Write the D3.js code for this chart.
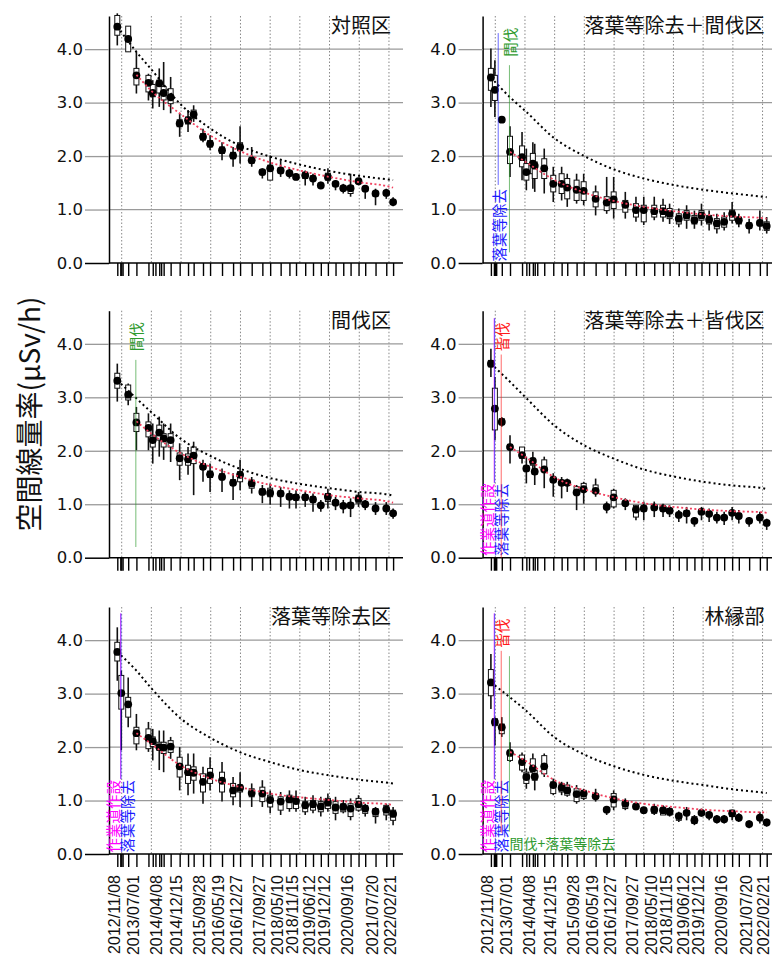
<!DOCTYPE html>
<html>
<head>
<meta charset="utf-8">
<script src="https://cdn.jsdelivr.net/npm/d3@7"></script>
<style>
  body { margin: 0; background: #fff; }
  svg { display: block; }
</style>
</head>
<body>
<script>
// measurement dates (one x tick each)
const dates = [
  "2012-11-08","2012-12-15","2012-12-27","2013-01-12","2013-03-22","2013-07-01",
  "2013-11-26","2014-01-18","2014-02-20","2014-04-08","2014-05-01","2014-06-01",
  "2014-08-26","2014-12-15","2015-03-28","2015-06-05","2015-09-28","2015-12-24",
  "2016-05-19","2016-10-02","2016-12-27","2017-05-19","2017-09-27","2018-01-01",
  "2018-05-10","2018-08-26","2018-11-15","2019-03-08","2019-06-12","2019-09-16",
  "2019-12-12","2020-03-15","2020-06-18","2020-09-16","2020-12-23","2021-03-15",
  "2021-07-20","2021-11-29","2022-02-21"];
const dateLabels = ["2012-11-08","2013-07-01","2014-04-08","2014-12-15","2015-09-28",
  "2016-05-19","2016-12-27","2017-09-27","2018-05-10","2018-11-15","2019-06-12",
  "2019-12-12","2020-09-16","2021-07-20","2022-02-21"];
const gridYears = [2013,2014,2015,2016,2017,2018,2019,2020,2021,2022];
const yTicks = [0, 1, 2, 3, 4];
const titles = ["対照区","落葉等除去＋間伐区","間伐区","落葉等除去＋皆伐区","落葉等除去区","林縁部"];

// [date index, mean, whisker low, whisker high, box low, box high]
const p1 = [[0,4.42,4.07,4.67,4.26,4.63],[4,4.19,3.95,4.43,3.95,4.43],[5,3.51,3.17,3.95,3.33,3.64],
  [6,3.37,3.04,3.54,3.20,3.51],[7,3.18,2.89,3.42,3.11,3.34],[9,3.36,2.92,3.64,3.18,3.42],
  [11,3.18,2.86,3.76,3.05,3.30],[12,3.10,2.80,3.48,2.98,3.26],[13,2.61,2.36,2.80,2.55,2.68],
  [14,2.67,2.45,2.86,2.60,2.73],[15,2.78,2.64,2.95,2.70,2.86],[16,2.36,2.26,2.51,2.30,2.42],
  [17,2.23,2.11,2.39,2.17,2.29],[18,2.11,1.92,2.26,2.05,2.17],[19,2.01,1.80,2.17,1.95,2.07],
  [20,2.17,1.86,2.56,2.10,2.25],[21,1.92,1.80,2.17,1.87,1.98],[22,1.70,1.58,1.77,1.65,1.75],
  [23,1.77,1.55,2.01,1.55,1.83],[24,1.73,1.61,1.92,1.68,1.78],[25,1.68,1.58,1.77,1.64,1.72],
  [26,1.61,1.55,1.67,1.57,1.65],[27,1.64,1.45,1.73,1.58,1.70],[28,1.58,1.45,1.67,1.54,1.63],
  [29,1.45,1.39,1.52,1.42,1.49],[30,1.61,1.48,1.77,1.55,1.68],[31,1.48,1.36,1.55,1.43,1.52],
  [32,1.40,1.30,1.48,1.36,1.44],[33,1.40,1.24,1.67,1.30,1.45],[34,1.53,1.45,1.58,1.50,1.56],
  [35,1.39,1.20,1.45,1.35,1.43],[36,1.30,1.08,1.39,1.25,1.34],[37,1.31,1.20,1.39,1.27,1.35],
  [38,1.14,1.06,1.23,1.10,1.18]];
const p2 = [[0,3.47,2.92,4.01,3.23,3.64],[2,3.24,2.73,3.79,3.04,3.51],[4,2.68,2.62,2.74,2.64,2.72],
  [5,2.08,1.61,2.56,1.86,2.37],[6,1.98,1.55,2.45,1.80,2.19],[7,1.70,1.36,2.14,1.55,1.86],
  [9,1.86,1.39,2.26,1.67,2.05],[10,1.82,1.33,2.23,1.58,1.89],[12,1.77,1.30,2.14,1.58,1.95],
  [13,1.48,1.14,1.80,1.33,1.64],[14,1.48,1.17,1.80,1.30,1.67],[15,1.41,1.05,1.67,1.20,1.58],
  [16,1.37,1.11,1.67,1.17,1.55],[17,1.35,1.08,1.67,1.17,1.52],[18,1.20,0.89,1.45,1.05,1.33],
  [19,1.13,0.92,1.61,0.98,1.24],[20,1.19,0.83,1.61,1.02,1.33],[21,1.09,0.83,1.33,0.95,1.17],
  [22,0.99,0.77,1.24,0.86,1.11],[23,0.99,0.71,1.24,0.77,1.08],[24,0.97,0.80,1.24,0.86,1.08],
  [25,0.97,0.77,1.20,0.86,1.08],[26,0.92,0.73,1.11,0.83,1.02],[27,0.83,0.67,1.02,0.73,0.92],
  [28,0.89,0.64,1.08,0.80,0.98],[29,0.80,0.64,0.98,0.73,0.89],[30,0.89,0.70,1.11,0.80,0.98],
  [31,0.81,0.61,0.98,0.73,0.89],[32,0.74,0.55,0.92,0.64,0.83],[33,0.77,0.61,0.95,0.67,0.86],
  [34,0.92,0.74,1.14,0.80,0.99],[35,0.80,0.67,0.92,0.73,0.86],[36,0.70,0.55,0.83,0.65,0.75],
  [37,0.75,0.61,0.98,0.70,0.80],[38,0.69,0.55,0.86,0.61,0.77]];
const p3 = [[0,3.31,2.92,3.63,3.17,3.45],[4,3.05,2.85,3.26,2.95,3.23],[5,2.53,2.01,2.82,2.36,2.70],
  [6,2.43,2.01,2.70,2.26,2.54],[7,2.20,1.76,2.51,2.07,2.29],[9,2.34,1.89,2.64,2.20,2.48],
  [11,2.23,1.83,2.51,2.07,2.32],[12,2.20,1.79,2.51,2.07,2.32],[13,1.86,1.45,2.14,1.73,1.96],
  [14,1.84,1.55,2.07,1.73,1.94],[15,1.91,1.17,2.17,1.76,2.07],[16,1.70,1.42,1.83,1.65,1.76],
  [17,1.56,1.23,1.76,1.50,1.62],[18,1.51,1.23,1.67,1.46,1.57],[19,1.40,1.08,1.58,1.35,1.46],
  [20,1.55,1.26,1.83,1.42,1.61],[21,1.39,1.20,1.51,1.30,1.45],[22,1.23,1.02,1.36,1.18,1.29],
  [23,1.21,0.99,1.39,1.14,1.30],[24,1.20,0.95,1.32,1.15,1.25],[25,1.14,0.92,1.26,1.09,1.19],
  [26,1.13,0.92,1.26,1.08,1.18],[27,1.13,0.95,1.23,1.08,1.18],[28,1.09,0.86,1.20,1.04,1.14],
  [29,0.98,0.86,1.08,0.94,1.02],[30,1.14,0.92,1.29,1.05,1.20],[31,1.03,0.89,1.14,0.99,1.07],
  [32,0.97,0.83,1.08,0.93,1.01],[33,0.98,0.76,1.11,0.93,1.03],[34,1.10,0.95,1.23,1.02,1.17],
  [35,1.00,0.89,1.08,0.96,1.04],[36,0.92,0.80,1.04,0.88,0.96],[37,0.92,0.80,1.04,0.88,0.96],
  [38,0.83,0.73,0.92,0.79,0.87]];
const p4 = [[0,3.63,3.38,3.91,3.57,3.69],[2,2.79,2.20,3.38,2.39,3.17],[4,2.54,2.45,2.63,2.49,2.60],
  [5,2.07,1.76,2.29,2.03,2.12],[6,1.92,1.76,2.07,1.86,2.07],[7,1.67,1.39,1.89,1.62,1.72],
  [9,1.81,1.55,1.98,1.73,1.86],[10,1.61,1.36,1.76,1.56,1.66],[12,1.65,1.30,1.89,1.64,1.83],
  [13,1.46,1.14,1.58,1.41,1.51],[14,1.40,1.11,1.51,1.35,1.45],[15,1.40,1.23,1.48,1.36,1.44],
  [16,1.22,0.89,1.36,1.20,1.33],[17,1.28,1.01,1.42,1.24,1.39],[18,1.25,1.14,1.48,1.21,1.36],
  [19,0.95,0.83,1.05,0.91,0.99],[20,1.13,0.92,1.29,0.95,1.26],[21,1.02,0.89,1.11,0.98,1.06],
  [22,0.90,0.70,0.98,0.76,0.98],[23,0.92,0.70,1.05,0.87,0.97],[24,0.94,0.76,1.05,0.89,0.99],
  [25,0.92,0.76,1.01,0.87,0.97],[26,0.88,0.76,0.98,0.84,0.92],[27,0.80,0.67,0.89,0.76,0.84],
  [28,0.83,0.64,0.95,0.78,0.88],[29,0.69,0.58,0.76,0.65,0.73],[30,0.86,0.70,0.95,0.82,0.90],
  [31,0.82,0.67,0.92,0.78,0.86],[32,0.75,0.64,0.86,0.71,0.79],[33,0.75,0.61,0.86,0.71,0.79],
  [34,0.84,0.70,0.95,0.80,0.88],[35,0.78,0.64,0.89,0.74,0.82],[36,0.69,0.58,0.76,0.65,0.73],
  [37,0.75,0.64,0.86,0.71,0.79],[38,0.65,0.52,0.73,0.61,0.69]];
const p5 = [[0,3.78,3.24,4.24,3.61,3.96],[2,3.01,1.94,3.43,2.71,3.34],[4,2.80,2.37,3.30,2.56,2.93],
  [5,2.26,1.94,2.62,2.06,2.37],[6,2.17,1.91,2.47,1.97,2.34],[7,2.11,1.75,2.34,2.01,2.19],
  [9,2.00,1.57,2.31,1.94,2.09],[11,1.99,1.53,2.31,1.88,2.09],[12,2.01,1.78,2.19,1.90,2.12],
  [13,1.64,1.19,2.00,1.44,1.81],[14,1.53,1.10,1.88,1.32,1.66],[15,1.52,1.13,1.88,1.38,1.63],
  [16,1.35,0.94,1.63,1.16,1.50],[17,1.47,1.19,1.81,1.32,1.60],[18,1.37,0.98,1.72,1.16,1.53],
  [19,1.19,0.91,1.44,1.07,1.32],[20,1.24,0.88,1.53,1.16,1.29],[21,1.14,0.88,1.32,1.07,1.22],
  [22,1.13,0.88,1.38,0.98,1.25],[23,1.01,0.76,1.19,0.88,1.10],[24,0.98,0.73,1.16,0.82,1.07],
  [25,1.02,0.79,1.19,0.85,1.10],[26,0.99,0.79,1.19,0.85,1.07],[27,0.91,0.73,1.07,0.79,0.98],
  [28,0.93,0.76,1.10,0.82,1.00],[29,0.89,0.70,1.07,0.79,0.98],[30,0.96,0.79,1.13,0.85,1.04],
  [31,0.87,0.63,1.07,0.76,0.98],[32,0.88,0.76,1.01,0.79,0.94],[33,0.85,0.63,1.04,0.70,0.94],
  [34,0.93,0.79,1.10,0.82,1.04],[35,0.85,0.70,0.94,0.76,0.91],[36,0.79,0.57,0.88,0.70,0.85],
  [37,0.83,0.63,0.94,0.73,0.91],[38,0.75,0.54,0.88,0.63,0.82]];
const p6 = [[0,3.21,2.71,3.74,2.96,3.45],[2,2.47,2.03,2.56,2.40,2.53],[4,2.37,2.19,2.56,2.25,2.43],
  [5,1.89,1.72,2.09,1.75,1.94],[6,1.72,1.53,1.90,1.57,1.85],[7,1.44,1.22,1.60,1.32,1.53],
  [9,1.60,1.47,1.88,1.53,1.78],[10,1.45,1.19,1.60,1.38,1.56],[12,1.64,1.44,1.88,1.50,1.84],
  [13,1.29,1.10,1.41,1.13,1.35],[14,1.24,1.10,1.35,1.16,1.32],[15,1.19,1.07,1.35,1.10,1.29],
  [16,1.12,0.94,1.29,0.98,1.22],[17,1.13,1.01,1.22,1.04,1.19],[18,1.08,0.98,1.22,1.04,1.13],
  [19,0.83,0.73,0.88,0.79,0.87],[20,1.02,0.82,1.19,0.88,1.13],[21,0.94,0.82,1.04,0.85,0.98],
  [22,0.89,0.82,0.94,0.86,0.92],[23,0.82,0.76,0.88,0.79,0.85],[24,0.83,0.73,0.94,0.76,0.88],
  [25,0.82,0.73,0.91,0.73,0.85],[26,0.79,0.70,0.88,0.73,0.85],[27,0.71,0.60,0.79,0.63,0.76],
  [28,0.77,0.63,0.88,0.73,0.81],[29,0.63,0.54,0.73,0.57,0.70],[30,0.77,0.70,0.85,0.74,0.80],
  [31,0.73,0.63,0.79,0.70,0.76],[32,0.65,0.57,0.73,0.62,0.68],[33,0.65,0.57,0.73,0.62,0.68],
  [34,0.76,0.63,0.82,0.70,0.82],[35,0.68,0.60,0.76,0.65,0.71],[36,0.56,0.48,0.63,0.53,0.59],
  [37,0.68,0.57,0.79,0.65,0.71],[38,0.59,0.51,0.66,0.56,0.62]];
const panelData = [p1, p2, p3, p4, p5, p6];

// dotted curves: physical decay (black) and fitted (red), read at these dates
const decayDates = ["2012-11-08","2013-07-01","2014-01-01","2015-01-01","2016-01-01","2017-01-01",
  "2018-01-01","2019-01-01","2020-01-01","2021-01-01","2022-01-01","2022-02-21"];
const decay = [
  [4.42,3.95,3.62,2.96,2.51,2.19,1.99,1.84,1.72,1.63,1.56,1.55],
  [3.47,3.10,2.85,2.33,2.00,1.75,1.58,1.46,1.37,1.30,1.24,1.23],
  [3.32,2.98,2.72,2.22,1.90,1.66,1.49,1.38,1.30,1.23,1.18,1.16],
  [3.63,3.29,3.01,2.47,2.10,1.85,1.65,1.52,1.42,1.35,1.30,1.28],
  [3.78,3.43,3.10,2.53,2.17,1.90,1.72,1.57,1.47,1.39,1.33,1.32],
  [3.21,2.93,2.70,2.18,1.86,1.64,1.48,1.37,1.29,1.21,1.15,1.14]];
const fitDates = decayDates.slice(1);
const fit = [
  [3.52,3.22,2.78,2.38,2.09,1.88,1.73,1.61,1.51,1.43,1.41],
  [2.08,1.90,1.55,1.32,1.16,1.05,0.97,0.91,0.87,0.84,0.83],
  [2.55,2.32,1.95,1.70,1.51,1.36,1.26,1.17,1.11,1.05,1.03],
  [2.07,1.89,1.50,1.28,1.13,1.02,0.95,0.90,0.87,0.85,0.84],
  [2.26,2.06,1.65,1.41,1.25,1.13,1.06,1.01,0.96,0.93,0.92],
  [1.91,1.75,1.38,1.19,1.04,0.94,0.88,0.83,0.80,0.78,0.78]];

// work events
const eventDates = {road: "2012-12-18", litter: "2012-12-24", litterLate: "2013-02-06",
  clearcut: "2013-03-15", thinning: "2013-06-24"};
const eventNames = {road: "作業道作設", litter: "落葉等除去", clearcut: "皆伐",
  thinning: "間伐", thinLitter: "間伐+落葉等除去"};

const W = 772, H = 960;
const rowZero = [263, 557.7, 854];
const colShift = 373.6;
const jp = '"Noto Sans CJK JP", sans-serif';
const num = '"DejaVu Sans", sans-serif';
const col = {magenta: "#ff00ff", blue: "#1a1aff", red: "#ff1a1a", green: "#2e9a2e"};
const parse = d3.utcParse("%Y-%m-%d");

const svg = d3.select("body").append("svg").attr("width", W).attr("height", H);

// event marks per panel (line extent in y units, label placement)
const marks = {
  1: [{ev: "litterLate", name: "litter", c: col.blue, line: [1.46, 4.3], at: "low", off: 0},
      {ev: "thinning", name: "thinning", c: col.green, line: [0.2, 3.7], at: "high", off: 0}],
  2: [{ev: "thinning", name: "thinning", c: col.green, line: [0.2, 3.7], at: "high", off: 0}],
  3: [{ev: "road", name: "road", c: col.magenta, line: [1.4, 4.48], at: "low", off: -8},
      {ev: "litter", name: "litter", c: col.blue, line: [1.4, 4.48], at: "low", off: 5.5},
      {ev: "clearcut", name: "clearcut", c: col.red, line: [0.0, 3.8], at: "high", off: 0}],
  4: [{ev: "road", name: "road", c: col.magenta, line: [1.4, 4.5], at: "low", off: -8},
      {ev: "litter", name: "litter", c: col.blue, line: [1.4, 4.5], at: "low", off: 5.5}],
  5: [{ev: "road", name: "road", c: col.magenta, line: [1.4, 4.5], at: "low", off: -8},
      {ev: "litter", name: "litter", c: col.blue, line: [1.4, 4.5], at: "low", off: 5.5},
      {ev: "clearcut", name: "clearcut", c: col.red, line: [0.4, 3.8], at: "high", off: 0},
      {ev: "thinning", name: "thinLitter", c: col.green, line: [0.42, 3.7], at: "flat", off: 0}]
};

panelData.forEach((rows, i) => {
  const dx = (i % 2) * colShift;
  const y0 = rowZero[Math.floor(i / 2)];
  const x = d3.scaleUtc()
    .domain([parse(dates[0]), parse(dates[dates.length - 1])])
    .range([117.3 + dx, 393.1 + dx]);
  const y = d3.scaleLinear().domain([0, 4.62]).range([y0, y0 - 247]);
  const g = svg.append("g");

  // dotted yearly grid
  g.append("g").selectAll("line").data(gridYears).join("line")
    .attr("x1", d => x(new Date(Date.UTC(d, 0, 1)))).attr("x2", d => x(new Date(Date.UTC(d, 0, 1))))
    .attr("y1", y(4.62)).attr("y2", y0)
    .attr("stroke", "#888").attr("stroke-width", 1).attr("stroke-dasharray", "1.5,2");

  // horizontal grid
  g.append("g").selectAll("line").data(yTicks.filter(d => d > 0)).join("line")
    .attr("x1", 109 + dx).attr("x2", 403 + dx)
    .attr("y1", d => y(d)).attr("y2", d => y(d))
    .attr("stroke", "#9a9a9a").attr("stroke-width", 1.3);

  // y axis
  const ya = g.append("g").attr("transform", `translate(${109 + dx},0)`)
    .call(d3.axisLeft(y).tickValues(yTicks).tickFormat(d3.format(".1f"))
      .tickSize(24).tickSizeOuter(0).tickPadding(2));
  ya.select(".domain").attr("stroke", "#000").attr("stroke-width", 1.5);
  ya.selectAll(".tick line").attr("stroke", d => d === 0 ? "#000" : "#9a9a9a").attr("stroke-width", d => d === 0 ? 1.5 : 1.3);
  ya.selectAll(".tick text").attr("font-family", num).attr("font-size", 16.5).attr("fill", "#111");

  // x axis (ticks at every measurement)
  const xa = g.append("g").attr("transform", `translate(0,${y0})`)
    .call(d3.axisBottom(x).tickValues(dates.map(parse)).tickFormat("").tickSize(13).tickSizeOuter(0));
  xa.select(".domain").remove();
  xa.selectAll(".tick line").attr("stroke", "#000").attr("stroke-width", 1.4);
  g.append("line").attr("x1", 109 + dx).attr("x2", 403 + dx).attr("y1", y0).attr("y2", y0)
    .attr("stroke", "#000").attr("stroke-width", 1.5);

  // date labels under bottom row
  if (i >= 4) {
    const la = g.append("g").attr("transform", `translate(0,${y0})`)
      .call(d3.axisBottom(x).tickValues(dateLabels.map(parse)).tickFormat(d3.utcFormat("%Y/%m/%d")).tickSize(0));
    la.select(".domain").remove();
    la.selectAll(".tick text")
      .attr("font-family", '"Liberation Sans", Arial, sans-serif').attr("font-size", 16).attr("fill", "#111")
      .attr("transform", "rotate(-90)").attr("text-anchor", "end")
      .attr("x", -21).attr("y", 0).attr("dy", "0.12em");
  }

  // whiskers, boxes, means
  const pts = g.append("g");
  pts.selectAll("line").data(rows).join("line")
    .attr("x1", d => x(parse(dates[d[0]]))).attr("x2", d => x(parse(dates[d[0]])))
    .attr("y1", d => y(d[2])).attr("y2", d => y(d[3]))
    .attr("stroke", "#111").attr("stroke-width", 1.6);
  pts.selectAll("rect").data(rows).join("rect")
    .attr("x", d => x(parse(dates[d[0]])) - 2.5).attr("width", 5)
    .attr("y", d => y(d[5])).attr("height", d => y(d[4]) - y(d[5]))
    .attr("fill", "#fff").attr("stroke", "#111").attr("stroke-width", 1);
  pts.selectAll("circle").data(rows).join("circle")
    .attr("cx", d => x(parse(dates[d[0]]))).attr("cy", d => y(d[1])).attr("r", 3.9)
    .attr("fill", "#000");

  // dotted curves
  const line = d3.line().x(d => x(d[0])).y(d => y(d[1])).curve(d3.curveMonotoneX);
  g.append("path").attr("d", line(decayDates.map((d, k) => [parse(d), decay[i][k]])))
    .attr("fill", "none").attr("stroke", "#000").attr("stroke-width", 2).attr("stroke-dasharray", "2,3");
  g.append("path").attr("d", line(fitDates.map((d, k) => [parse(d), fit[i][k]])))
    .attr("fill", "none").attr("stroke", "#f0405e").attr("stroke-width", 1.8).attr("stroke-dasharray", "2,2.4");

  // work event marks
  (marks[i] || []).forEach(m => {
    const xe = x(parse(eventDates[m.ev]));
    g.append("line").attr("x1", xe).attr("x2", xe)
      .attr("y1", y(m.line[0])).attr("y2", y(m.line[1]))
      .attr("stroke", m.c).attr("stroke-width", 1).attr("stroke-opacity", 0.65);
    const t = g.append("text").text(eventNames[m.name])
      .attr("font-family", jp).attr("font-size", m.at === "flat" ? 14 : 14.5).attr("fill", m.c);
    if (m.at === "flat") {
      t.attr("x", xe).attr("y", y(0.1));
    } else {
      const ys = m.at === "low" ? y(0.03) : y(3.86);
      t.attr("transform", `translate(${xe + m.off},${ys}) rotate(-90)`)
        .attr("dominant-baseline", "central");
    }
  });

  // panel title
  g.append("text").text(titles[i])
    .attr("x", 391 + dx).attr("y", y0 - 230).attr("text-anchor", "end")
    .attr("font-family", jp).attr("font-size", 20).attr("fill", "#111");
});

// y axis title
svg.append("text").text("空間線量率(μSv/h)")
  .attr("transform", "translate(28,414) rotate(-90)")
  .attr("text-anchor", "middle").attr("dominant-baseline", "central")
  .attr("font-family", jp).attr("font-size", 28).attr("fill", "#111");
</script>
</body>
</html>
